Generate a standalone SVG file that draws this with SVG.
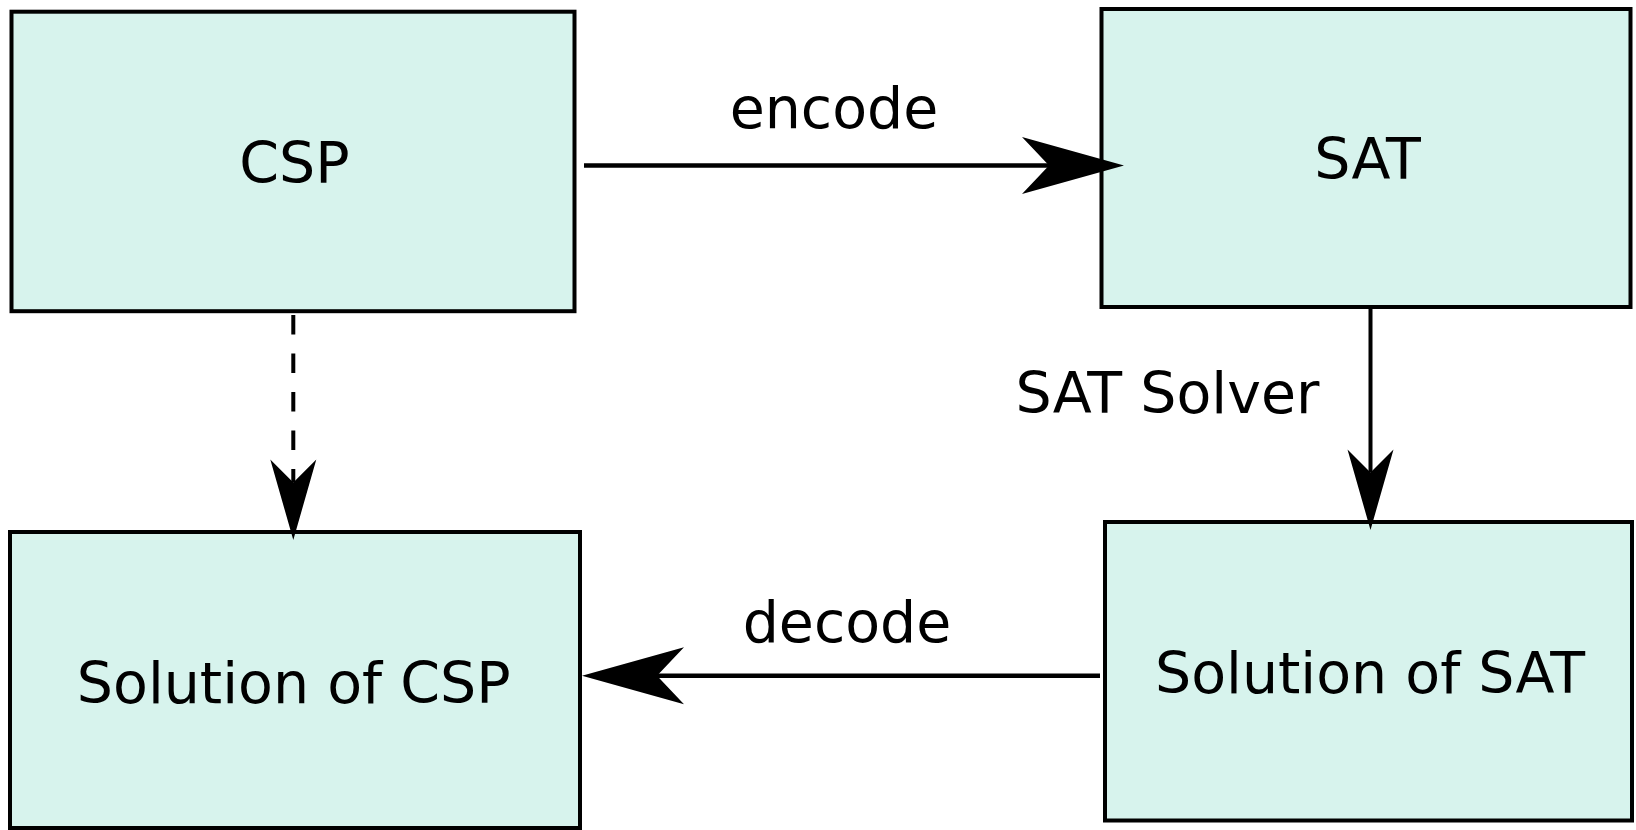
<svg xmlns="http://www.w3.org/2000/svg" width="1636" height="830" viewBox="0 0 1636 830">
  <style>
    .box { fill: #d7f3ed; stroke: #000; stroke-width: 4; }
    .label { font-family: "DejaVu Sans", "Liberation Sans", sans-serif; font-size: 57px; fill: #000; text-anchor: middle; }
    .edge { stroke: #000; fill: none; }
    .thick { stroke-width: 4.5; }
    .thin { stroke-width: 4; }
    .dash { stroke-dasharray: 19.5 19; }
  </style>
  <defs>
    <!-- large concave arrowhead; origin sits at the notch, tip points along +x -->
    <marker id="headBig" markerUnits="userSpaceOnUse" orient="auto" overflow="visible" markerWidth="1" markerHeight="1" refX="0" refY="0">
      <path d="M75,0 L-27,-28.5 L0,0 L-27,28.5 Z" fill="#000"/>
    </marker>
    <!-- smaller arrowhead for the vertical connectors -->
    <marker id="headSmall" markerUnits="userSpaceOnUse" orient="auto" overflow="visible" markerWidth="1" markerHeight="1" refX="0" refY="0">
      <path d="M57.5,0 L-23,-23 L0,0 L-23,23 Z" fill="#000"/>
    </marker>
  </defs>

  <rect width="1636" height="830" fill="#fff"/>

  <g id="node-csp">
    <rect class="box" x="11.5" y="11.7" width="563" height="299.5"/>
    <text class="label" x="294.5" y="182.7">CSP</text>
  </g>

  <g id="node-sat">
    <rect class="box" x="1101.5" y="9" width="529" height="298"/>
    <text class="label" x="1367.5" y="179">SAT</text>
  </g>

  <g id="node-solution-sat">
    <rect class="box" x="1105" y="522" width="527" height="298.5"/>
    <text class="label" x="1370" y="693">Solution of SAT</text>
  </g>

  <g id="node-solution-csp">
    <rect class="box" x="10" y="532" width="570" height="296"/>
    <text class="label" x="293.7" y="702.7">Solution of CSP</text>
  </g>

  <g id="connectors">
    <line class="edge thick" x1="584" y1="165.5" x2="1049" y2="165.5" marker-end="url(#headBig)"/>
    <text class="label" x="834" y="128.3">encode</text>

    <line class="edge thin" x1="1370.5" y1="307" x2="1370.5" y2="472.5" marker-end="url(#headSmall)"/>
    <text class="label" x="1167.5" y="413.3">SAT Solver</text>

    <line class="edge thick" x1="1100" y1="675.7" x2="657" y2="675.7" marker-end="url(#headBig)"/>
    <text class="label" x="847" y="642.3">decode</text>

    <line class="edge thin dash" x1="293.3" y1="315" x2="293.3" y2="482.5" marker-end="url(#headSmall)"/>
  </g>
</svg>
